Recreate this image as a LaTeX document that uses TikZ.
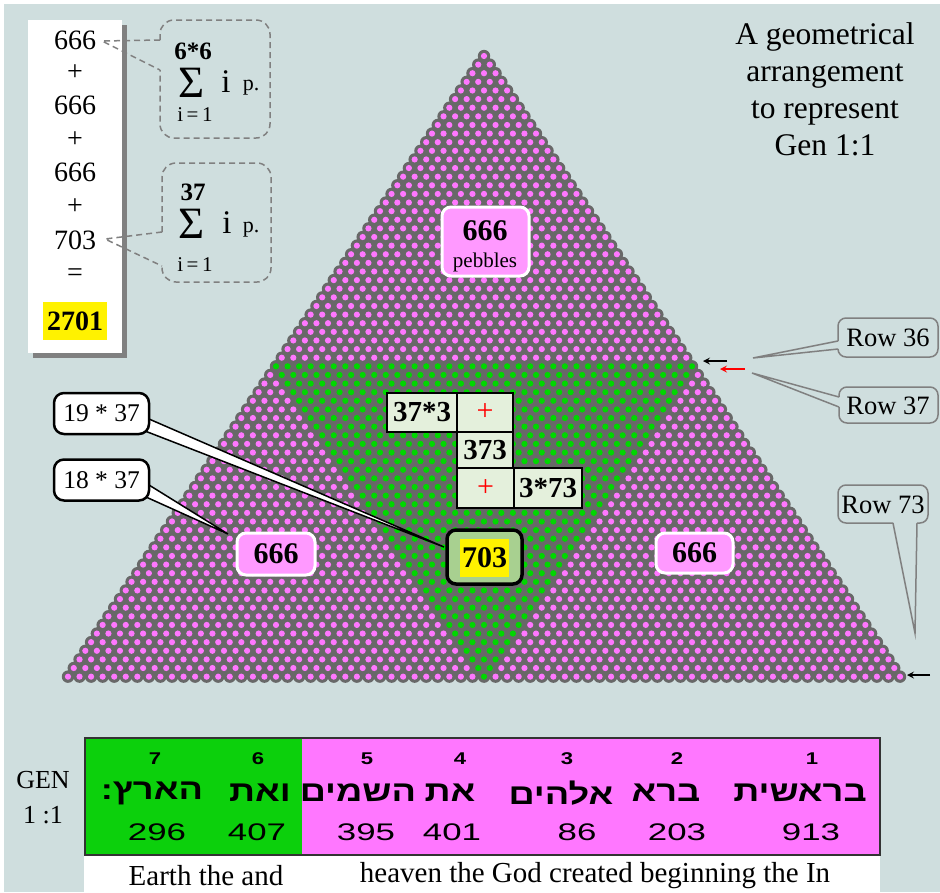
\documentclass[tikz,border=0pt]{standalone}
\usepackage{fontspec}
\setmainfont{Liberation Serif}
\newfontfamily\hebfont[Script=Hebrew]{Liberation Sans}
\newfontfamily\numfont{Liberation Sans}
\usepackage{tikz}
\usetikzlibrary{calc}
\TeXXeTstate=1
\newcommand{\fsz}[2]{\fontsize{#1}{#2}\selectfont}
\definecolor{bgcol}{RGB}{207,222,222}
\definecolor{pebgray}{RGB}{104,104,104}
\definecolor{pebpink}{RGB}{255,119,255}
\definecolor{pebgreen}{RGB}{0,215,0}
\definecolor{boxpink}{RGB}{255,153,255}
\definecolor{cellfill}{RGB}{228,240,220}
\definecolor{fillsvn}{RGB}{168,208,144}
\definecolor{callgray}{RGB}{128,128,128}
\definecolor{tabgreen}{RGB}{12,208,12}
\definecolor{tabpink}{RGB}{255,119,255}

\begin{document}
\begin{tikzpicture}[x=1pt, y=-1pt,
        sumbox/.style={draw=callgray, line width=1.5pt, dash pattern=on 6pt off 4pt},
        rowbox/.style={draw=callgray, line width=1.5pt},
        cell/.style={draw=black, line width=1.2pt, fill=cellfill, inner sep=0pt, font=\fsz{29}{29}\bfseries},
        countbox/.style={draw=white, line width=3pt, fill=boxpink, rounded corners=9pt, inner sep=0pt, font=\fsz{30}{30}\bfseries},
        tagbox/.style={draw=black, line width=2.5pt, fill=white, rounded corners=10pt, minimum width=95pt, minimum height=41pt, font=\fsz{25.5}{25.5}},
        wedge/.style={draw=black, line width=1.5pt, fill=white},
        rowarrow/.style={-stealth, line width=2pt}]
        \fill[white] (0,0) rectangle (940,892);
        \fill[bgcol] (4,4) rectangle (940,892);
        \useasboundingbox (0,0) rectangle (940,892);

        \fill[pebgray] (484,56) -- (67.98,676.64) -- (900.02,676.64) -- cycle;
        \fill[pebgray] foreach \r in {1,...,73} {({484-(\r-1)/2*11.556},{56+(\r-1)*8.62}) circle (6.2pt) ({484+(\r-1)/2*11.556},{56+(\r-1)*8.62}) circle (6.2pt)}
            foreach \k in {1,...,73} {({484+(\k-37)*11.556},676.64) circle (6.2pt)};
        \fill[pebpink] foreach \r in {1,...,36} {foreach \k in {1,...,\r} {({484+(\k-(\r+1)/2)*11.556},{56+(\r-1)*8.62}) circle (3.1pt)}};
        \fill[pebpink] foreach \j in {1,...,36} {foreach \k in {1,...,\j} {({484+(\k-(38+\j)/2)*11.556},{56+(36+\j)*8.62}) circle (3.1pt) ({484+(37+\k-(38+\j)/2)*11.556},{56+(36+\j)*8.62}) circle (3.1pt)}};
        \fill[pebgreen] foreach \i in {0,...,36} {foreach \m in {0,...,\i} {({484+(\m-\i/2)*11.556},{56+(72-\i)*8.62}) circle (3.1pt)}};

        \fill[callgray] (33,25) rectangle (127,358);
        \fill[white] (28,20) rectangle (122,353);
        \foreach \t/\y/\n in {666/40/a, +/73/b, 666/105/c, +/140/d, 666/172/e, +/207/f, 703/240/g, =/275/h}
            \node[font=\fsz{28}{28}] (col\n) at (75,\y) {\t};
        \node[fill=yellow, inner sep=0pt, minimum width=64pt, minimum height=38pt, font=\fsz{28}{28}\bfseries] (total) at (75,321) {2701};

        \coordinate (tipa) at (102,41);
        \coordinate (sa1) at (160,40);
        \coordinate (sa2) at (160,70);
        \draw[sumbox, rounded corners=14pt] (sa1) -- (160,20) -- (270,20) -- (270,138) -- (160,138) -- (sa2);
        \draw[sumbox] (sa1) -- (tipa) -- (sa2);
        \node[inner sep=0pt, font=\fsz{25}{25}\bfseries] (upa) at (193,51) {6*6};
        \node[inner sep=0pt, font=\fsz{40}{40}] (siga) at (192,83) {\scalebox{1.12}{Σ}};
        \node[inner sep=0pt, font=\fsz{33}{33}] (ia) at (226,82) {i};
        \node[inner sep=0pt, font=\fsz{22}{22}] (pa) at (251,88) {p.};
        \node[inner sep=0pt, font=\fsz{21}{21}] (loa) at (195,115) {i\,=\,1};

        \coordinate (tipg) at (105,239);
        \coordinate (sg1) at (162,232);
        \coordinate (sg2) at (162,266);
        \draw[sumbox, rounded corners=14pt] (sg1) -- (162,163) -- (271,163) -- (271,282) -- (162,282) -- (sg2);
        \draw[sumbox] (sg1) -- (tipg) -- (sg2);
        \node[inner sep=0pt, font=\fsz{25}{25}\bfseries] (upg) at (193,192) {37};
        \node[inner sep=0pt, font=\fsz{40}{40}] (sigg) at (192,224) {\scalebox{1.12}{Σ}};
        \node[inner sep=0pt, font=\fsz{33}{33}] (ig) at (227,223) {i};
        \node[inner sep=0pt, font=\fsz{22}{22}] (pg) at (251,230) {p.};
        \node[inner sep=0pt, font=\fsz{21}{21}] (log) at (195,265) {i\,=\,1};

        \node[align=center, font=\fsz{31.5}{37}] (title) at (825,89) {A geometrical\\arrangement\\to represent\\Gen 1:1};

        \node[countbox, minimum width=87pt, minimum height=69pt] (pebbox) at (485.5,241.5) {};
        \node[font=\fsz{30}{30}\bfseries] (pebnum) at (485,231) {666};
        \node[font=\fsz{21}{21}] (pebtxt) at (485,262) {pebbles};

        \node[cell, minimum width=70pt, minimum height=39pt] (ca) at (422,412.5) {37*3};
        \node[cell, minimum width=56pt, minimum height=39pt, text=red, font=\fsz{30}{30}] (cb) at (485,412.5) {+};
        \node[cell, minimum width=56pt, minimum height=36pt] (cc) at (485,450) {373};
        \node[cell, minimum width=57pt, minimum height=40pt, text=red, font=\fsz{30}{30}] (cd) at (485.5,488) {+};
        \node[cell, minimum width=68pt, minimum height=40pt] (ce) at (548,488) {3*73};

        \coordinate (tip19) at (444,547);
        \coordinate (w19a) at (149,419);
        \coordinate (w19b) at (145,431);
        \draw[wedge] (w19a) -- (tip19) -- (w19b);
        \node[tagbox] (t19) at (101.5,413.5) {19 * 37};
        \coordinate (tip18) at (228,534);
        \coordinate (w18a) at (149,485);
        \coordinate (w18b) at (146,497);
        \draw[wedge] (w18a) -- (tip18) -- (w18b);
        \node[tagbox] (t18) at (101.5,480) {18 * 37};

        \node[countbox, minimum width=78pt, minimum height=42pt] (left) at (276,554) {666};
        \node[countbox, minimum width=77pt, minimum height=40pt] (right) at (694.5,553) {666};
        \node[draw=black, line width=3.5pt, fill=fillsvn, rounded corners=9pt, minimum width=75pt, minimum height=54pt] (box703) at (484.5,557) {};
        \node[fill=yellow, inner sep=0pt, minimum width=49pt, minimum height=38pt, font=\fsz{30}{30}\bfseries] (num703) at (484.5,558) {703};

        \coordinate (r36a) at (838,341);
        \coordinate (r36b) at (838,349);
        \coordinate (r36tip) at (753,358);
        \draw[rowbox, rounded corners=8pt] (r36a) -- (838,318) -- (938,318) -- (938,357) -- (838,357) -- (r36b);
        \draw[rowbox] (r36a) -- (r36tip) -- (r36b);
        \node[font=\fsz{26.5}{26.5}] (lab36) at (888,338) {Row 36};
        \coordinate (r37a) at (839,397);
        \coordinate (r37b) at (839,407);
        \coordinate (r37tip) at (752,373);
        \draw[rowbox, rounded corners=8pt] (r37a) -- (839,387) -- (938,387) -- (938,423) -- (839,423) -- (r37b);
        \draw[rowbox] (r37a) -- (r37tip) -- (r37b);
        \node[font=\fsz{26.5}{26.5}] (lab37) at (888,406) {Row 37};
        \coordinate (r73a) at (893,523);
        \coordinate (r73b) at (917,523);
        \coordinate (r73tip) at (915,633);
        \draw[rowbox, rounded corners=8pt] (r73a) -- (838,523) -- (838,485) -- (928,485) -- (928,523) -- (r73b);
        \draw[rowbox] (r73a) -- (r73tip) -- (r73b);
        \node[font=\fsz{26.5}{26.5}] (lab73) at (883,505) {Row 73};

        \coordinate (ar36s) at (727,361);
        \coordinate (ar36e) at (703,361);
        \coordinate (ar37s) at (745,369);
        \coordinate (ar37e) at (720,369);
        \coordinate (ar73s) at (930,675);
        \coordinate (ar73e) at (907,675);
        \draw[rowarrow] (ar36s) -- (ar36e);
        \draw[rowarrow, red] (ar37s) -- (ar37e);
        \draw[rowarrow] (ar73s) -- (ar73e);

        \fill[white] (84,855) rectangle (880,892);
        \fill[tabgreen] (85,738) rectangle (302,855);
        \fill[tabpink] (302,738) rectangle (880,855);
        \draw[line width=1.5pt, black!80] (85,738) rectangle (880,855);
        \foreach \n/\xa/\xh/\xv/\w/\v in {7/155/152/157/הארץ:/296, 6/258/260/257/ואת/407, 5/367/358/366/השמים/395, 4/460/450/452/את/401, 3/567/561/577/אלהים/86, 2/677/666/677/ברא/203, 1/812/800/811/בראשית/913} {
            \node[font=\numfont\bfseries\fsz{17}{17}] (idx\n) at (\xa,759) {\scalebox{1.3}[1]{\n}};
            \node[inner sep=0pt, font=\hebfont\bfseries\fsz{29}{29}] (heb\n) at (\xh,793) {\scalebox{1.25}[1]{\beginR\w\endR}};
            \node[font=\numfont\fsz{24}{24}] (val\n) at (\xv,832) {\scalebox{1.45}[1]{\v}};
        }
        \node[font=\fsz{26}{26}] (gen) at (43,780) {GEN};
        \node[font=\fsz{26}{26}] (verse) at (43,815) {1 :1};
        \node[font=\fsz{29}{29}] (engl) at (206,876) {Earth the and};
        \node[font=\fsz{29}{29}] (engr) at (595,876) {heaven the God created beginning the In};
    \end{tikzpicture}
\end{document}
